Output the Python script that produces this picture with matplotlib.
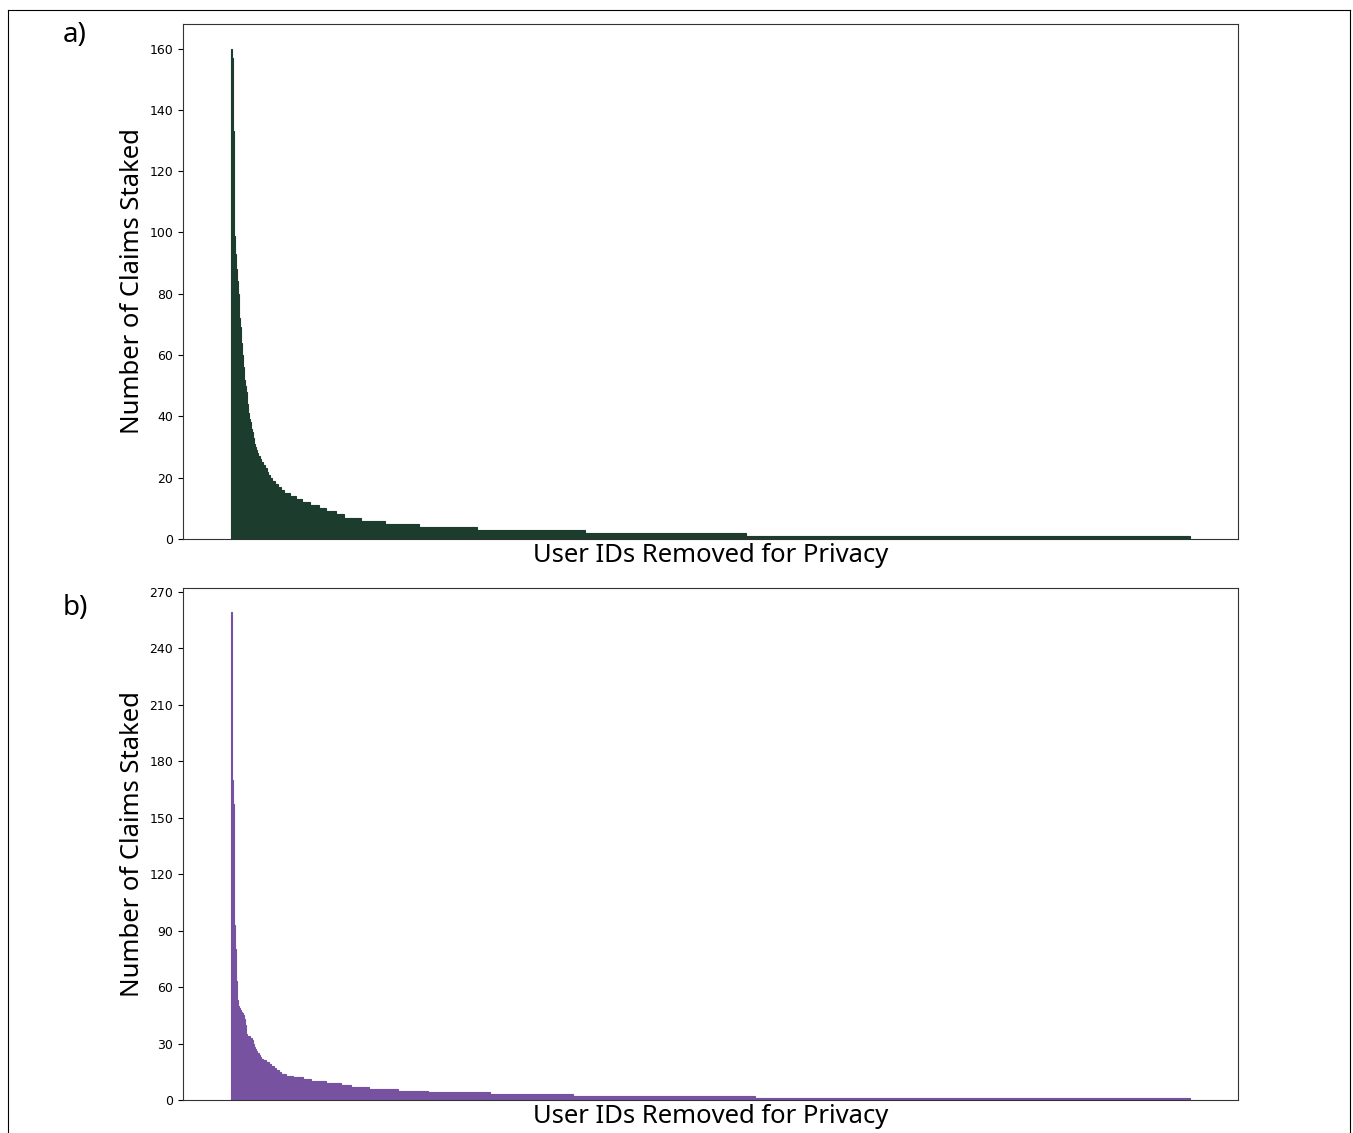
import matplotlib
matplotlib.use("Agg")
import matplotlib.pyplot as plt
import numpy as np
from matplotlib.lines import Line2D

# claims staked per user, sorted descending, stored as (value, run length)
claims_a_vals = [160, 157, 133, 99, 93, 88, 84, 80, 72, 69, 64, 60, 56, 52, 50, 48, 44, 41,
                 39, 38, 36, 35, 33, 31, 30, 29, 28, 27, 26, 25, 24, 23, 22, 21, 20, 19,
                 18, 17, 16, 15, 14, 13, 12, 11, 10, 9, 8, 7, 6, 5, 4, 3, 2, 1]
claims_a_runs = [1, 1, 1, 1, 1, 1, 1, 1, 1, 1, 1, 1, 1, 1, 1, 1, 1, 1,
                 1, 1, 1, 1, 1, 1, 1, 1, 1, 2, 1, 2, 2, 2, 1, 2, 2, 3,
                 3, 3, 3, 6, 6, 6, 8, 9, 7, 10, 8, 18, 24, 34, 58, 108, 162, 446]

claims_b_vals = [259, 170, 157, 93, 80, 63, 53, 50, 49, 48, 47, 46, 45, 43, 40, 35,
                 34, 33, 32, 30, 28, 27, 26, 25, 24, 23, 22, 21, 20, 19, 18, 17, 16, 15,
                 14, 13, 12, 11, 10, 9, 8, 7, 6, 5, 4, 3, 2, 1]
claims_b_runs = [1, 1, 1, 1, 1, 1, 1, 1, 1, 1, 1, 1, 1, 1, 1, 1,
                 3, 2, 1, 1, 1, 1, 1, 2, 1, 1, 2, 3, 3, 2, 3, 2, 3, 2,
                 5, 7, 10, 8, 15, 15, 10, 18, 29, 30, 63, 83, 182, 436]

claims_a = np.repeat(claims_a_vals, claims_a_runs)
claims_b = np.repeat(claims_b_vals, claims_b_runs)

yticks_a = list(range(0, 161, 20))
yticks_b = list(range(0, 271, 30))

label_font = ["Noto Sans", "DejaVu Sans"]

fig = plt.figure(figsize=(13.53, 11.33), dpi=100)
ax1 = fig.add_axes([0.1353, 0.5243, 0.7797, 0.4545])
ax2 = fig.add_axes([0.1353, 0.0291, 0.7797, 0.4519])

panels = [(ax1, claims_a, "#1c3d2d", yticks_a, "a)", 0.969),
          (ax2, claims_b, "#7652a0", yticks_b, "b)", 0.4634)]

for ax, data, color, yt, tag, ty in panels:
    ax.bar(np.arange(len(data)), data, width=1.0, color=color,
           edgecolor=color, linewidth=0.8)
    ax.set_xticks([])
    ax.set_yticks(yt)
    ax.tick_params(axis="y", labelsize=9)
    for s in ax.spines.values():
        s.set_color("#333333")
    ax.set_ylabel("Number of Claims Staked", fontsize=18.5, family=label_font, labelpad=3)
    ax.set_xlabel("User IDs Removed for Privacy", fontsize=18.5, family=label_font, labelpad=3)
    fig.text(0.0554, ty, tag, fontsize=20, family=label_font, ha="center", va="center")

# thin frame around the whole figure
for xs, ys in [([8 / 1353, 8 / 1353], [0, 1 - 10 / 1133]),
               ([8 / 1353, 1350 / 1353], [1 - 10 / 1133, 1 - 10 / 1133]),
               ([1350 / 1353, 1350 / 1353], [0, 1 - 10 / 1133])]:
    fig.add_artist(Line2D(xs, ys, color="black", linewidth=0.8, transform=fig.transFigure))

fig.savefig("out.png", dpi=100)
